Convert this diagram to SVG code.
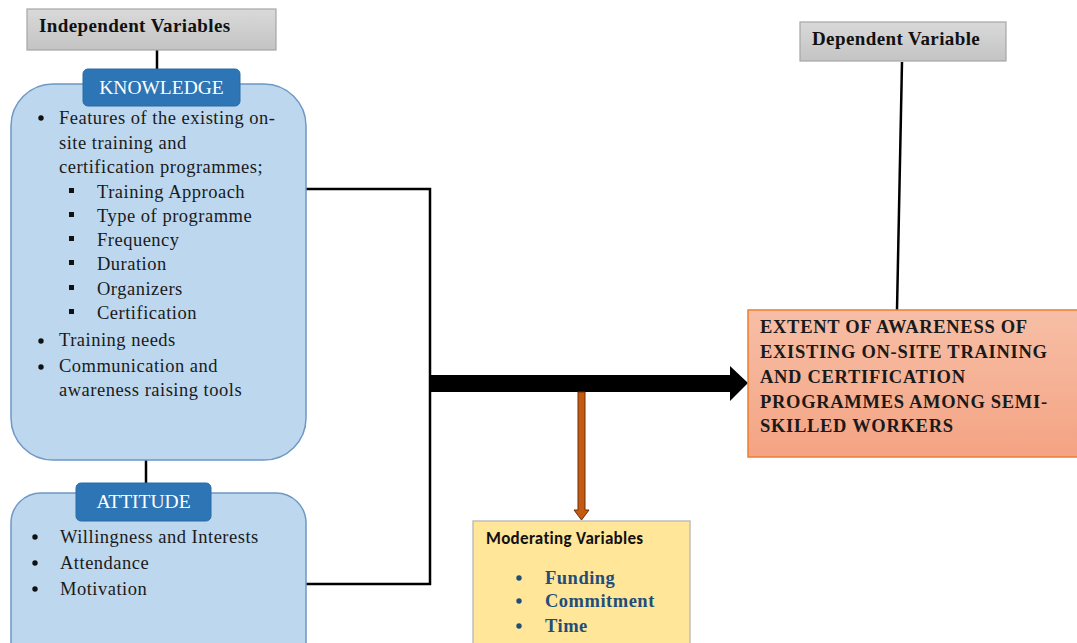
<svg xmlns="http://www.w3.org/2000/svg" width="1077" height="643" viewBox="0 0 1077 643">
<defs>
<linearGradient id="gray" x1="0" y1="0" x2="0" y2="1"><stop offset="0" stop-color="#d9d9d9"/><stop offset="1" stop-color="#c4c4c4"/></linearGradient>
<linearGradient id="orange" x1="0" y1="0" x2="0" y2="1"><stop offset="0" stop-color="#f7bfa6"/><stop offset="1" stop-color="#f4a383"/></linearGradient>
</defs>
<style>
.hdr{fill:url(#gray);stroke:#a6a6a6;stroke-width:1.2}
.hdrt{font-family:"Liberation Serif",serif;font-weight:bold;font-size:19px;letter-spacing:0.4px;fill:#111}
.blue{fill:#bdd7ee;stroke:#6f98c4;stroke-width:1.5}
.tab{fill:#2e75b6;stroke:#2a6aa6;stroke-width:1}
.tabt{font-family:"Liberation Serif",serif;font-size:19.5px;fill:#fff}
.t{font-family:"Liberation Serif",serif;font-size:18.5px;letter-spacing:0.5px;fill:#1a1a1a}
.line{stroke:#000;stroke-width:2.5;fill:none}
.mod{fill:#ffe699;stroke:#bfbfbf;stroke-width:1.5}
.modh{font-family:"Carlito","Liberation Sans",sans-serif;font-weight:bold;font-size:17px;letter-spacing:0.3px;fill:#111}
.modt{font-family:"Liberation Serif",serif;font-weight:bold;font-size:18.5px;letter-spacing:0.5px;fill:#1f4e79}
.dep{fill:url(#orange);stroke:#ed7d31;stroke-width:1.5}
.dept{font-family:"Liberation Serif",serif;font-weight:bold;font-size:18.5px;letter-spacing:0.7px;fill:#1a1a1a}
</style>

<g id="connectors">
<line class="line" x1="157" y1="50" x2="157" y2="70"/>
<line class="line" x1="146" y1="460" x2="146" y2="484"/>
<path class="line" d="M306,189 H430 V584 H306" stroke-linejoin="miter"/>
<line x1="902" y1="62" x2="897" y2="310" stroke="#000" stroke-width="2.5"/>
<path d="M430,375 H730 V366 L748,383 L730,401 V392 H430 Z" fill="#000"/>
<path d="M578,392 H585 V510 H589 L581.5,520 L574,510 H578 Z" fill="#c55a11" stroke="#6b3008" stroke-width="1"/>
</g>

<g id="independent-header">
<rect class="hdr" x="27" y="9" width="249" height="41"/>
<text class="hdrt" x="39" y="32">Independent Variables</text>
</g>

<g id="knowledge">
<rect class="blue" x="11" y="84" width="295" height="376" rx="42" ry="42"/>
<rect class="tab" x="83" y="69" width="157" height="37" rx="5" ry="5"/>
<text class="tabt" x="161.5" y="94" text-anchor="middle">KNOWLEDGE</text>
<g class="t">
<circle cx="41" cy="118" r="2.7" fill="#111"/>
<text x="59" y="124">Features of the existing on-</text>
<text x="59" y="149">site training and</text>
<text x="59" y="173">certification programmes;</text>
<rect x="69" y="188" width="5" height="5" fill="#111"/>
<text x="97" y="198">Training Approach</text>
<rect x="69" y="212" width="5" height="5" fill="#111"/>
<text x="97" y="222">Type of programme</text>
<rect x="69" y="236" width="5" height="5" fill="#111"/>
<text x="97" y="246">Frequency</text>
<rect x="69" y="260" width="5" height="5" fill="#111"/>
<text x="97" y="270">Duration</text>
<rect x="69" y="285" width="5" height="5" fill="#111"/>
<text x="97" y="295">Organizers</text>
<rect x="69" y="309" width="5" height="5" fill="#111"/>
<text x="97" y="319">Certification</text>
<circle cx="41" cy="341" r="2.7" fill="#111"/>
<text x="59" y="346">Training needs</text>
<circle cx="41" cy="367" r="2.7" fill="#111"/>
<text x="59" y="372">Communication and</text>
<text x="59" y="396">awareness raising tools</text>
</g>
</g>

<g id="attitude">
<rect class="blue" x="11" y="493" width="295" height="180" rx="30" ry="30"/>
<rect class="tab" x="76" y="483" width="135" height="38" rx="5" ry="5"/>
<text class="tabt" x="143.5" y="508" text-anchor="middle">ATTITUDE</text>
<g class="t">
<circle cx="35" cy="537" r="2.7" fill="#111"/>
<text x="60" y="543">Willingness and Interests</text>
<circle cx="35" cy="563" r="2.7" fill="#111"/>
<text x="60" y="569">Attendance</text>
<circle cx="35" cy="589" r="2.7" fill="#111"/>
<text x="60" y="595">Motivation</text>
</g>
</g>

<g id="moderating">
<rect class="mod" x="473" y="521" width="217" height="140"/>
<text class="modh" x="486" y="544">Moderating Variables</text>
<circle cx="519" cy="578" r="2.7" fill="#1f4e79"/>
<text class="modt" x="545" y="584">Funding</text>
<circle cx="519" cy="601" r="2.7" fill="#1f4e79"/>
<text class="modt" x="545" y="607">Commitment</text>
<circle cx="519" cy="626" r="2.7" fill="#1f4e79"/>
<text class="modt" x="545" y="632">Time</text>
</g>

<g id="dependent-header">
<rect class="hdr" x="800" y="22" width="206" height="39"/>
<text class="hdrt" x="812" y="45">Dependent Variable</text>
</g>

<g id="dependent">
<rect class="dep" x="748" y="310" width="335" height="147"/>
<text class="dept" x="760" y="333">EXTENT OF AWARENESS OF</text>
<text class="dept" x="760" y="358">EXISTING ON-SITE TRAINING</text>
<text class="dept" x="760" y="383">AND CERTIFICATION</text>
<text class="dept" x="760" y="408">PROGRAMMES AMONG SEMI-</text>
<text class="dept" x="760" y="432">SKILLED WORKERS</text>
</g>
</svg>
